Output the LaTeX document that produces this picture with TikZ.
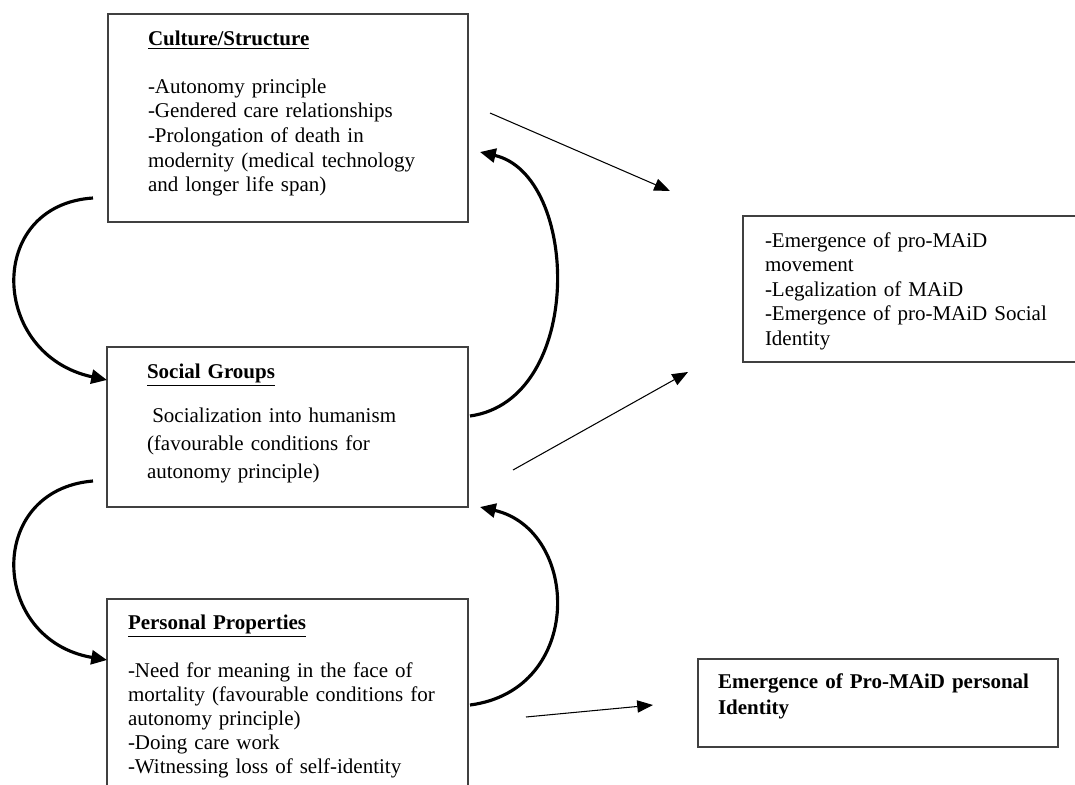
\documentclass[tikz,border=0pt]{standalone}
\usepackage{fontspec}
\setmainfont{Liberation Serif}
\usetikzlibrary{arrows.meta,calc}
\begin{document}
\begin{tikzpicture}[x=0.5714pt,y=-0.5714pt,
  box/.style={draw=black!75,line width=0.6pt,inner sep=0pt,outer sep=0pt,anchor=north west},
  txt/.style={inner sep=0pt,outer sep=0pt,anchor=base west,align=left,text width=240pt,font=\fontsize{12pt}{14.1pt}\selectfont},
  bigarrow/.style={line width=1.8pt,-{Triangle[length=9pt,width=8pt]}},
  thinarrow/.style={line width=0.6pt,-{Triangle[length=9pt,width=7pt]}}]
\useasboundingbox (0,0) rectangle (1075,785);
\clip (0,0) rectangle (1075,785);
% boxes
\node[box,minimum width={360*0.5714pt},minimum height={208*0.5714pt}] (box1) at (108,14) {};
\node[box,minimum width={361*0.5714pt},minimum height={160*0.5714pt}] (box2) at (107,347) {};
\node[box,minimum width={361*0.5714pt},minimum height={221*0.5714pt}] (box3) at (107,599) {};
\node[box,minimum width={345*0.5714pt},minimum height={146*0.5714pt}] (box4) at (743,216) {};
\node[box,minimum width={360*0.5714pt},minimum height={88*0.5714pt}] (box5) at (698,659) {};
% texts
\node[txt] (t1) at (148,46) {\underline{\textbf{Culture/Structure}}};
\node[txt] (b1) at (148,93) {-Autonomy principle\\-Gendered care relationships\\-Prolongation of death in\\modernity (medical technology\\and longer life span)};
\node[txt] (t2) at (147,378) {\underline{\textbf{Social Groups}}};
\node[txt,font=\fontsize{12pt}{16pt}\selectfont] (b2) at (147,422) {\hspace*{3pt}Socialization into humanism\\(favourable conditions for\\autonomy principle)};
\node[txt] (t3) at (128,629) {\underline{\textbf{Personal Properties}}};
\node[txt,font=\fontsize{12pt}{13.8pt}\selectfont] (b3) at (128,677) {-Need for meaning in the face of\\mortality (favourable conditions for\\autonomy principle)\\-Doing care work\\-Witnessing loss of self-identity};
\node[txt,font=\fontsize{12pt}{14pt}\selectfont] (b4) at (765,247) {-Emergence of pro-MAiD\\movement\\-Legalization of MAiD\\-Emergence of pro-MAiD Social\\Identity};
\node[txt,font=\fontsize{12pt}{14.9pt}\selectfont\bfseries] (b5) at (718,688) {Emergence of Pro-MAiD personal\\Identity};
% connector ends
\coordinate (a1s) at (93,198);
\coordinate (a3s) at (93,481);
\coordinate (s1s) at (490,113);
\coordinate (s1e) at (670,191);
\coordinate (s2s) at (513,470);
\coordinate (s2e) at (688,372);
\coordinate (s3s) at (526,717);
\coordinate (s3e) at (653,705);
% curved arrows
\draw[bigarrow] (a1s) .. controls (-15,205) and (-10,355) .. ($(box2.north west)+(0,33)$);
\draw[bigarrow] ($(box2.north east)+(2,69)$) .. controls (585,400) and (580,175) .. ($(box1.north east)+(12,138)$);
\draw[bigarrow] (a3s) .. controls (-15,490) and (-10,640) .. ($(box3.north west)+(0,61)$);
\draw[bigarrow] ($(box3.north east)+(2,106)$) .. controls (585,690) and (580,530) .. ($(box2.south east)+(12,0)$);
% straight arrows
\draw[thinarrow] (s1s) -- (s1e);
\draw[thinarrow] (s2s) -- (s2e);
\draw[thinarrow] (s3s) -- (s3e);
\end{tikzpicture}
\end{document}
